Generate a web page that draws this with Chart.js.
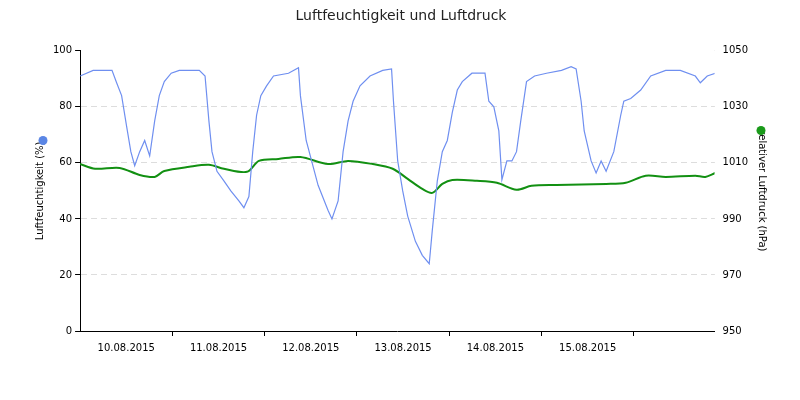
<!DOCTYPE html>
<html><head><meta charset="utf-8">
<script src="https://cdn.jsdelivr.net/npm/chart.js@4"></script>
<style>body{margin:0;background:#fff}#w{width:800px;height:400px}</style>
</head><body><div id="w"><canvas id="c"></canvas></div>
<script>
const dayLabels=['10.08.2015','11.08.2015','12.08.2015','13.08.2015','14.08.2015','15.08.2015'];
const humHours=[0,3.4,8.3,9.5,10.8,12.1,13.2,14.2,15.5,16.8,18.1,19.4,20.6,21.9,23.7,25.8,31,32.5,33.5,34.3,35.6,37.4,39.2,41.3,42.6,43.9,44.9,45.9,47,48.5,50.3,54.2,56.8,57.3,58.8,61.9,64.5,65.5,67.1,68.4,69.7,71,72.8,75.4,78.7,81,81.5,82.6,83.9,85.2,87.2,89,90.8,91.6,92.9,94.2,95.5,96.8,98.1,99.4,101.9,105.3,106.3,107.6,108.9,109.7,111,112.3,113.5,114.6,116.1,118.2,121.3,125.2,127.7,129,130.3,131.1,132.9,134.2,135.5,136.8,138.8,140.6,141.4,143.2,145.8,148.4,152.3,156.1,160,161.3,163.1,165.2];
const humValues=[91,93,93,88.6,84,73,64,59,64,68,62.5,75,84,89,92,93,93,91,75,64,57,53.6,50,46.4,44,48,64,77,84,87.5,91,92,94,84,68,52,43,40,46.4,64,75,82,87.5,91,93,93.5,82,60.7,50,41,32,27,24,36,53.6,64,68,78,86,89,92,92,82,80,71.4,54,60.7,60.7,64,75,89,91,92,93,94.3,93.5,82,71.4,60.7,56.4,60.7,57,64,77,82,83,86,91,93,93,91,88.6,91,92];
const presHours=[0,3.9,10.3,15.5,19.4,21.9,28.4,33.5,37.4,43.4,46.5,51.6,57.3,64.5,69.7,76.1,81.3,85.2,89,91.6,94.2,96.8,103.2,108.4,113.5,117.4,123.9,136.8,141.9,147.1,152.3,160,162.6,165.2];
const presValues=[1009.6,1007.9,1008.2,1005.7,1005,1007.1,1008.6,1009.3,1007.9,1006.8,1010.7,1011.4,1012.1,1009.6,1010.7,1009.6,1007.9,1004.3,1000.7,999.3,1002.5,1003.9,1003.6,1002.9,1000.4,1001.8,1002.1,1002.5,1002.9,1005.4,1005,1005.4,1005,1006.4];
const hum=humHours.map((h,i)=>({x:h,y:humValues[i]}));
const pres=presHours.map((h,i)=>({x:h,y:presValues[i]}));
const dots={id:'dots',afterDraw(ch){const c=ch.ctx;const a=ch.chartArea;const ym=a.top+(a.bottom-a.top)*0.32;
c.save();c.fillStyle='#5b86e5';c.beginPath();c.arc(43,ym,4.5,0,7);c.fill();
c.fillStyle='#1a9a1a';c.beginPath();c.arc(761,ym-10,4.5,0,7);c.fill();c.restore();}};
new Chart(document.getElementById('c'),{type:'line',
data:{datasets:[
{data:hum,yAxisID:'y',borderColor:'#6f8ff0',borderWidth:1.2,pointRadius:0,tension:0},
{data:pres,yAxisID:'y1',borderColor:'#129012',borderWidth:2,pointRadius:0,tension:0.3}]},
options:{responsive:true,maintainAspectRatio:false,animation:false,
layout:{padding:{left:30,right:28,top:0,bottom:40}},
plugins:{legend:{display:false},tooltip:{enabled:false},
title:{display:true,text:'Luftfeuchtigkeit und Luftdruck',color:'#222',font:{family:'DejaVu Sans',size:14,weight:'normal'},padding:{top:8,bottom:26}}},
scales:{
x:{type:'linear',min:0,max:165,border:{color:'#000'},
afterBuildTicks(s){s.ticks=[];for(let k=1;k<=13;k++)s.ticks.push({value:k*12});},
grid:{drawOnChartArea:false,tickLength:5,tickColor:c=>(c.tick&&c.tick.value%24===0)?'#000':'rgba(0,0,0,0)'},
ticks:{autoSkip:false,maxRotation:0,color:'#000',font:{family:'DejaVu Sans',size:10},padding:6,
callback:v=>{const k=Math.round(v/12);return k%2===1&&(k-1)/2<dayLabels.length?dayLabels[(k-1)/2]:'';}}},
y:{position:'left',min:0,max:100,border:{color:'#000'},
ticks:{stepSize:20,color:'#000',font:{family:'DejaVu Sans',size:10}},
grid:{color:c=>c.tick.value===0||c.tick.value===100?'rgba(0,0,0,0)':'#ddd',tickColor:'#000',tickLength:5,tickBorderDash:[0]},
border:{color:'#000',dash:[6,4]},
title:{display:true,text:'Luftfeuchtigkeit (%)',color:'#000',font:{family:'DejaVu Sans',size:10}}},
y1:{position:'right',min:950,max:1050,border:{display:false},
ticks:{stepSize:20,color:'#000',padding:8,font:{family:'DejaVu Sans',size:10},callback:v=>String(v)},
grid:{drawOnChartArea:false,tickLength:0},
title:{display:true,text:'relativer Luftdruck (hPa)',color:'#000',padding:{top:4,bottom:0},font:{family:'DejaVu Sans',size:10}}}
}},plugins:[dots]});
</script></body></html>
